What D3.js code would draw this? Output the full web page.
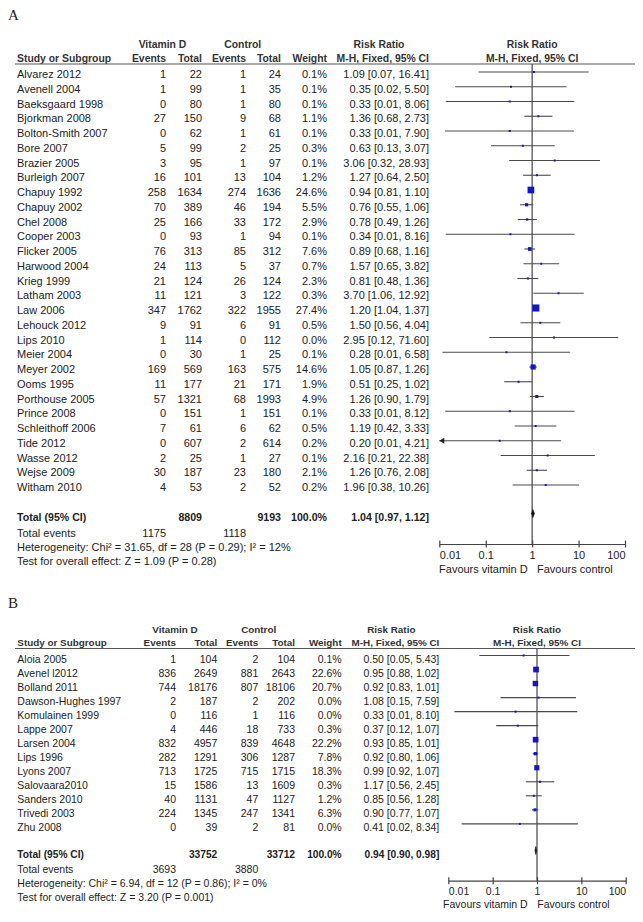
<!DOCTYPE html>
<html><head><meta charset="utf-8">
<script src="https://cdn.jsdelivr.net/npm/d3@7"></script>
<style>
body{margin:0;background:#fff}
svg{display:block;background:#fff}
text{font-family:"Liberation Sans",Arial,sans-serif;fill:#222}
</style>
</head><body>
<svg id="chart" width="643" height="922"></svg>
<script>
// ---------- Panel A data ----------
const studiesA = ["Alvarez 2012","Avenell 2004","Baeksgaard 1998","Bjorkman 2008","Bolton-Smith 2007","Bore 2007","Brazier 2005","Burleigh 2007","Chapuy 1992","Chapuy 2002","Chel 2008","Cooper 2003","Flicker 2005","Harwood 2004","Krieg 1999","Latham 2003","Law 2006","Lehouck 2012","Lips 2010","Meier 2004","Meyer 2002","Ooms 1995","Porthouse 2005","Prince 2008","Schleithoff 2006","Tide 2012","Wasse 2012","Wejse 2009","Witham 2010"];
const vitEventsA = [1,1,0,27,0,5,3,16,258,70,25,0,76,24,21,11,347,9,1,0,169,11,57,0,7,0,2,30,4];
const vitTotalA  = [22,99,80,150,62,99,95,101,1634,389,166,93,313,113,124,121,1762,91,114,30,569,177,1321,151,61,607,25,187,53];
const ctlEventsA = [1,1,1,9,1,2,1,13,274,46,33,1,85,5,26,3,322,6,0,1,163,21,68,1,6,2,1,23,2];
const ctlTotalA  = [24,35,80,68,61,25,97,104,1636,194,172,94,312,37,124,122,1955,91,112,25,575,171,1993,151,62,614,27,180,52];
const weightA    = [0.1,0.1,0.1,1.1,0.1,0.3,0.1,1.2,24.6,5.5,2.9,0.1,7.6,0.7,2.3,0.3,27.4,0.5,0.0,0.1,14.6,1.9,4.9,0.1,0.5,0.2,0.1,2.1,0.2];
const rrA        = [1.09,0.35,0.33,1.36,0.33,0.63,3.06,1.27,0.94,0.76,0.78,0.34,0.89,1.57,0.81,3.70,1.20,1.50,2.95,0.28,1.05,0.51,1.26,0.33,1.19,0.20,2.16,1.26,1.96];
const loA        = [0.07,0.022,0.0138,0.68,0.0132,0.13,0.32,0.64,0.81,0.55,0.49,0.0138,0.68,0.65,0.48,1.06,1.04,0.56,0.12,0.0117,0.87,0.25,0.90,0.0134,0.42,0.0097,0.21,0.76,0.38];
const hiA        = [16.41,5.50,8.06,2.73,7.90,3.07,28.93,2.50,1.10,1.06,1.26,8.16,1.16,3.82,1.36,12.92,1.37,4.04,71.60,6.58,1.26,1.02,1.79,8.12,3.33,4.21,22.38,2.08,10.26];
const totalsA = {vitTotal:"8809", ctlTotal:"9193", weight:"100.0%", rr:1.04, lo:0.97, hi:1.12, vitEvents:"1175", ctlEvents:"1118"};
const hetA  = "Heterogeneity: Chi\u00B2 = 31.65, df = 28 (P = 0.29); I\u00B2 = 12%";
const testA = "Test for overall effect: Z = 1.09 (P = 0.28)";

// ---------- Panel B data ----------
const studiesB = ["Aloia 2005","Avenel l2012","Bolland 2011","Dawson-Hughes 1997","Komulainen 1999","Lappe 2007","Larsen 2004","Lips 1996","Lyons 2007","Salovaara2010","Sanders 2010","Trivedi 2003","Zhu 2008"];
const vitEventsB = [1,836,744,2,0,4,832,282,713,15,40,224,0];
const vitTotalB  = [104,2649,18176,187,116,446,4957,1291,1725,1586,1131,1345,39];
const ctlEventsB = [2,881,807,2,1,18,839,306,715,13,47,247,2];
const ctlTotalB  = [104,2643,18106,202,116,733,4648,1287,1715,1609,1127,1341,81];
const weightB    = [0.1,22.6,20.7,0.0,0.0,0.3,22.2,7.8,18.3,0.3,1.2,6.3,0.0];
const rrB        = [0.50,0.95,0.92,1.08,0.33,0.37,0.93,0.92,0.99,1.17,0.85,0.90,0.41];
const loB        = [0.05,0.88,0.83,0.15,0.0137,0.12,0.85,0.80,0.92,0.56,0.56,0.77,0.02];
const hiB        = [5.43,1.02,1.01,7.59,8.10,1.07,1.01,1.06,1.07,2.45,1.28,1.07,8.34];
const totalsB = {vitTotal:"33752", ctlTotal:"33712", weight:"100.0%", rr:0.94, lo:0.90, hi:0.98, vitEvents:"3693", ctlEvents:"3880"};
const hetB  = "Heterogeneity: Chi\u00B2 = 6.94, df = 12 (P = 0.86); I\u00B2 = 0%";
const testB = "Test for overall effect: Z = 3.20 (P = 0.001)";

// ---------- shared ----------
const axisTicks = [0.01, 0.1, 1, 10, 100];
const tickLabels = ["0.01", "0.1", "1", "10", "100"];
const headerRow1 = ["Vitamin D", "Control", "Risk Ratio", "Risk Ratio"];
const headerRow2 = ["Study or Subgroup", "Events", "Total", "Events", "Total", "Weight", "M-H, Fixed, 95% CI", "M-H, Fixed, 95% CI"];
const favourLabels = ["Favours vitamin D", "Favours control"];

const svg = d3.select("#chart");
const f2 = d3.format(".2f");
const fw = d3.format(".1f");

function drawPanel(L, D) {
  const g = svg.append("g");
  const x = d3.scaleLog().domain([0.01, 100]).range(L.xr);
  const cx = x(1);
  const rowY = i => L.row0 + i * L.dy;
  const txt = (t, xx, yy, anchor, size, weight) => g.append("text")
      .attr("x", xx).attr("y", yy).attr("text-anchor", anchor || "start")
      .style("font-size", size + "px").style("font-weight", weight || "normal").text(t);

  // panel letter
  g.append("text").attr("x", 8).attr("y", L.letterY).text(L.letter)
    .style("font-family", "'Liberation Serif','Times New Roman',serif").style("font-size", "15px").style("fill", "#222");

  // headers
  const h1x = [L.cVit, L.cCtl, L.cRR, cx];
  headerRow1.forEach((t, i) => txt(t, h1x[i], L.h1, "middle", L.hfs, "bold").style("fill", "#333"));
  const h2x = [L.xName, L.xVE, L.xVT, L.xCE, L.xCT, L.xW, L.xCI, cx];
  const h2a = ["start", "end", "end", "end", "end", "end", "end", "middle"];
  headerRow2.forEach((t, i) => txt(t, h2x[i], L.h2, h2a[i], L.hfs, "bold").style("fill", "#333"));
  g.append("line").attr("x1", 15).attr("x2", 635).attr("y1", L.ul).attr("y2", L.ul)
    .attr("stroke", "#555").attr("stroke-width", 1.2);

  // rows
  const rows = D.names.map((n, i) => ({
    name: n, ve: D.ve[i], vt: D.vt[i], ce: D.ce[i], ct: D.ct[i], w: D.w[i],
    rr: D.rr[i], lo: D.lo[i], hi: D.hi[i], i: i
  }));
  const cols = [
    {x: L.xName, a: "start", f: d => d.name},
    {x: L.xVE, a: "end", f: d => d.ve},
    {x: L.xVT, a: "end", f: d => d.vt},
    {x: L.xCE, a: "end", f: d => d.ce},
    {x: L.xCT, a: "end", f: d => d.ct},
    {x: L.xW, a: "end", f: d => fw(d.w) + "%"},
    {x: L.xCI, a: "end", f: d => `${f2(d.rr)} [${f2(d.lo)}, ${f2(d.hi)}]`}
  ];
  cols.forEach(c => {
    g.append("g").selectAll("text").data(rows).join("text")
      .attr("x", c.x).attr("y", d => rowY(d.i)).attr("text-anchor", c.a)
      .style("font-size", L.fs + "px").text(c.f);
  });

  // vertical line of no effect
  g.append("line").attr("x1", cx).attr("x2", cx).attr("y1", L.ul).attr("y2", L.axisY)
    .attr("stroke", "#444").attr("stroke-width", 1.2);

  // CI lines
  g.append("g").selectAll("line").data(rows).join("line")
    .attr("x1", d => x(Math.max(d.lo, 0.01))).attr("x2", d => x(Math.min(d.hi, 100)))
    .attr("y1", d => rowY(d.i) - L.mo).attr("y2", d => rowY(d.i) - L.mo)
    .attr("stroke", "#4a4a4a").attr("stroke-width", 1.1);
  // arrows for truncated CI
  g.append("g").selectAll("path").data(rows.filter(d => d.lo < 0.01)).join("path")
    .attr("d", d => {
      const xx = x(0.01), yy = rowY(d.i) - L.mo;
      return `M${xx},${yy} L${xx + 5},${yy - 3} L${xx + 5},${yy + 3} Z`;
    }).attr("fill", "#222");
  // squares
  g.append("g").selectAll("rect").data(rows).join("rect")
    .attr("x", d => x(d.rr) - Math.max(2, L.k * Math.sqrt(d.w)) / 2)
    .attr("y", d => rowY(d.i) - L.mo - Math.max(2, L.k * Math.sqrt(d.w)) / 2)
    .attr("width", d => Math.max(2, L.k * Math.sqrt(d.w)))
    .attr("height", d => Math.max(2, L.k * Math.sqrt(d.w)))
    .attr("fill", "#1414c8");

  // totals
  const T = D.totals;
  txt("Total (95% CI)", L.xName, L.tY, "start", L.tfs, "bold");
  txt(T.vitTotal, L.xVT, L.tY, "end", L.tfs, "bold");
  txt(T.ctlTotal, L.xCT, L.tY, "end", L.tfs, "bold");
  txt(T.weight, L.xW, L.tY, "end", L.tfs, "bold");
  txt(`${f2(T.rr)} [${f2(T.lo)}, ${f2(T.hi)}]`, L.xCI, L.tY, "end", L.tfs, "bold");
  txt("Total events", L.xName, L.eY, "start", L.fs);
  txt(T.vitEvents, L.xVE, L.eY, "end", L.fs);
  txt(T.ctlEvents, L.xCE, L.eY, "end", L.fs);
  txt(D.het, L.xName, L.hY, "start", L.fs);
  txt(D.test, L.xName, L.zY, "start", L.fs);

  // summary diamond
  const dy = L.tY - L.dOff;
  g.append("path")
    .attr("d", `M${x(T.lo)},${dy} L${x(T.rr)},${dy - 4} L${x(T.hi)},${dy} L${x(T.rr)},${dy + 4} Z`)
    .attr("fill", "#111").attr("stroke", "#111").attr("stroke-width", 0.6);

  // axis
  const ax = g.append("g").attr("transform", `translate(0,${L.axisY})`)
    .call(d3.axisBottom(x).tickValues(axisTicks).tickFormat((d, i) => tickLabels[i]).tickSizeOuter(0).tickSizeInner(3.5));
  ax.select(".domain").attr("stroke", "#444").attr("stroke-width", 1.2);
  ax.selectAll(".tick line").attr("y1", -3.5).attr("y2", 3.5).attr("stroke", "#444").attr("stroke-width", 1.2);
  ax.selectAll(".tick text")
    .attr("y", L.tickDy).attr("dy", null)
    .attr("text-anchor", (d, i) => i === 0 ? "start" : (i === axisTicks.length - 1 ? "end" : "middle"))
    .style("font-size", L.fs + "px").style("font-family", "'Liberation Sans',Arial,sans-serif").attr("fill", "#222");
  txt(favourLabels[0], L.favL, L.favY, "end", L.fs);
  txt(favourLabels[1], L.favR, L.favY, "start", L.fs);
}

drawPanel({
  letter: "A", letterY: 20,
  xr: [439.3, 625], h1: 47.5, h2: 62, ul: 64,
  row0: 78, dy: 14.75, mo: 6, k: 1.35,
  fs: 11, hfs: 10.4, tfs: 10.6,
  xName: 17, xVE: 166, xVT: 202, xCE: 246, xCT: 281, xW: 327, xCI: 429,
  cVit: 162.5, cCtl: 242.7, cRR: 379,
  tY: 520.5, eY: 536.5, hY: 550.5, zY: 565, dOff: 7,
  axisY: 544, tickDy: 15, favY: 572.5, favL: 527.7, favR: 537
}, {
  names: studiesA, ve: vitEventsA, vt: vitTotalA, ce: ctlEventsA, ct: ctlTotalA,
  w: weightA, rr: rrA, lo: loA, hi: hiA, totals: totalsA, het: hetA, test: testA
});

drawPanel({
  letter: "B", letterY: 608,
  xr: [448.3, 625.7], h1: 632.5, h2: 646, ul: 648.5,
  row0: 662.5, dy: 14.03, mo: 7, k: 1.2,
  fs: 10.5, hfs: 9.9, tfs: 10.2,
  xName: 17.3, xVE: 176, xVT: 217.3, xCE: 258.3, xCT: 295, xW: 341.7, xCI: 439.3,
  cVit: 175, cCtl: 258.7, cRR: 391.3,
  tY: 858, eY: 873.3, hY: 887, zY: 900.7, dOff: 7.5,
  axisY: 880.7, tickDy: 14, favY: 907.5, favL: 527.7, favR: 537.3
}, {
  names: studiesB, ve: vitEventsB, vt: vitTotalB, ce: ctlEventsB, ct: ctlTotalB,
  w: weightB, rr: rrB, lo: loB, hi: hiB, totals: totalsB, het: hetB, test: testB
});
</script>
</body></html>
